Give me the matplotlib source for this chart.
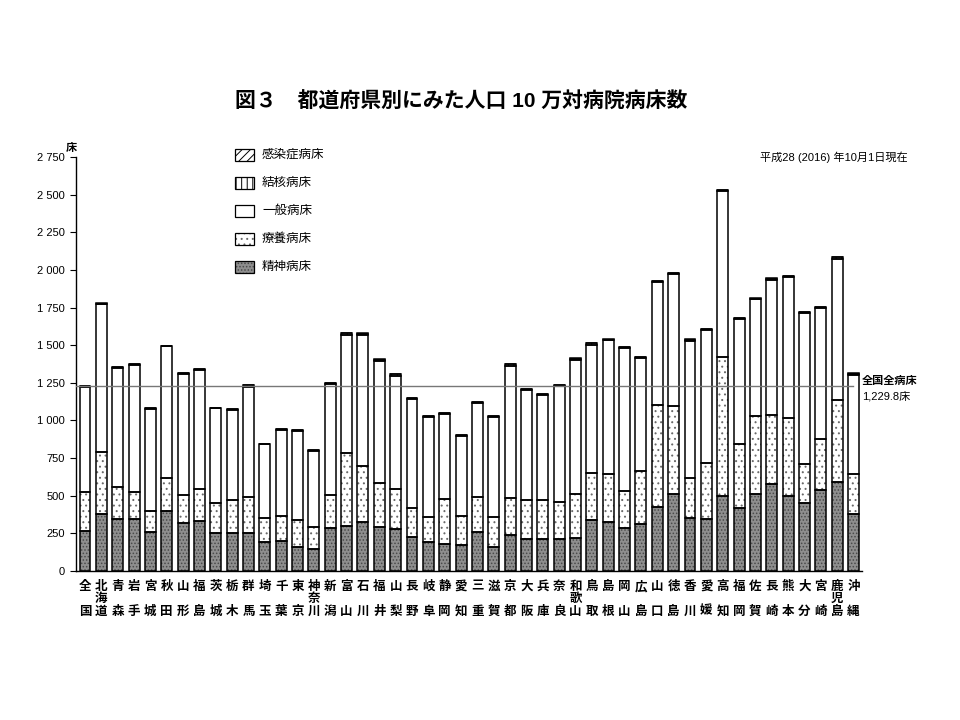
import matplotlib
matplotlib.use("Agg")
import matplotlib.pyplot as plt
from matplotlib.patches import Rectangle
from matplotlib.ticker import FuncFormatter
import numpy as np

plt.rcParams['font.family'] = ['Liberation Sans', 'Noto Sans CJK JP', 'DejaVu Sans']
plt.rcParams['hatch.linewidth'] = 0.7

prefs = ["全国", "北海道", "青森", "岩手", "宮城", "秋田", "山形", "福島", "茨城", "栃木",
         "群馬", "埼玉", "千葉", "東京", "神奈川", "新潟", "富山", "石川", "福井", "山梨",
         "長野", "岐阜", "静岡", "愛知", "三重", "滋賀", "京都", "大阪", "兵庫", "奈良",
         "和歌山", "鳥取", "島根", "岡山", "広島", "山口", "徳島", "香川", "愛媛", "高知",
         "福岡", "佐賀", "長崎", "熊本", "大分", "宮崎", "鹿児島", "沖縄"]

seishin = [263.5, 376, 345, 345, 261, 401, 317, 334, 250, 250,
           255, 195, 201, 162, 144, 283, 301, 323, 290, 277,
           228, 195, 177, 173, 261, 162, 239, 215, 215, 215,
           221, 336, 323, 283, 312, 427, 512, 354, 345, 498,
           416, 512, 576, 500, 450, 538, 593, 379]
ryoyo = [258.8, 412, 211, 182, 140, 215, 188, 209, 200, 220,
         235, 155, 166, 177, 150, 222, 481, 374, 292, 266,
         188, 166, 299, 194, 229, 199, 244, 257, 257, 246,
         288, 313, 319, 251, 352, 676, 584, 262, 374, 926,
         426, 518, 460, 514, 259, 337, 543, 263]
ippan = [701.8, 983.5, 791.5, 838.5, 674.5, 875.5, 804.5, 793.5, 630.5, 601.5,
         735.5, 491.5, 569.5, 593.5, 505.5, 738.5, 787.5, 872.5, 814.5, 754.5,
         725.5, 659.5, 567.5, 527.5, 626.5, 661.5, 878.5, 728.5, 699.5, 768.5,
         895.5, 854.5, 891.5, 947.5, 751.5, 813.5, 874.5, 914.5, 884.5, 1097.5,
         832.5, 773.5, 896.5, 938.5, 1005.5, 869.5, 939.5, 662.5]
kekkaku = [4.3, 5, 8, 8, 8, 4, 4, 4, 3, 3,
           7, 3, 7, 3, 3, 6, 12, 8, 8, 8,
           8, 8, 7, 7, 3, 6, 12, 7, 3, 3,
           7, 8, 4, 7, 7, 8, 6, 7, 3, 8,
           3, 6, 10, 6, 3, 10, 7, 7]
kansen = [1.4] + [1.5] * 47

national_total = 1229.8
yticks = [0, 250, 500, 750, 1000, 1250, 1500, 1750, 2000, 2250, 2500, 2750]

fig = plt.figure(figsize=(9.6, 7.2), dpi=100)
ax = fig.add_axes([76 / 960, 1 - 571 / 720, (862 - 76) / 960, (571 - 157) / 720])

x = np.arange(len(prefs))
w = 0.67
s = np.array(seishin, float)
r = np.array(ryoyo, float)
g = np.array(ippan, float)
t = np.array(kekkaku, float)
k = np.array(kansen, float)

# facecolor, hatch, hatch colour
styles = {
    'seishin': ('#8e8e8e', '.....', '#4a4a4a'),
    'ryoyo': ('white', '...', '#6a6a6a'),
    'ippan': ('white', None, 'black'),
    'kekkaku': ('white', '|||', 'black'),
    'kansen': ('white', '////', 'black'),
}

def stacked(vals, bottom, key):
    fc, hatch, hc = styles[key]
    ax.bar(x, vals, w, bottom=bottom, facecolor=fc, hatch=hatch, edgecolor=hc,
           linewidth=0, zorder=2)
    ax.bar(x, vals, w, bottom=bottom, fill=False, edgecolor='black',
           linewidth=1.1, zorder=2.5)

stacked(s, 0, 'seishin')
stacked(r, s, 'ryoyo')
stacked(g, s + r, 'ippan')
stacked(t, s + r + g, 'kekkaku')
stacked(k, s + r + g + t, 'kansen')

ax.plot([-0.55, 46.95], [national_total, national_total], color='#777777', linewidth=1.0, zorder=3)

ax.set_xlim(-0.55, len(prefs) - 1 + 0.52)
ax.set_ylim(0, 2750)
ax.set_yticks(yticks)
ax.yaxis.set_major_formatter(FuncFormatter(lambda v, p: f"{int(v):,}".replace(',', ' ')))
ax.tick_params(axis='y', direction='out', length=4, width=0.8, labelsize=8, pad=4)
ax.spines['top'].set_visible(False)
ax.spines['right'].set_visible(False)
ax.spines['left'].set_linewidth(1.0)
ax.spines['bottom'].set_linewidth(1.0)

def vlabel(name):
    if len(name) == 2:
        return name[0] + "\n\n" + name[1]
    return "\n".join(name)

ax.set_xticks(x)
ax.set_xticklabels([vlabel(p) for p in prefs], fontsize=9, fontweight='bold',
                   linespacing=1.05, va='top')
ax.tick_params(axis='x', length=0, pad=7)

# unit label
fig.text(71 / 960, 1 - 148 / 720, "床", fontsize=8, ha='center', va='center', fontweight='bold')

# title
fig.text(461 / 960, 1 - 102 / 720, "図３　都道府県別にみた人口 10 万対病院病床数",
         fontsize=15, fontweight='bold', ha='center', va='center')

# date note
fig.text(908 / 960, 1 - 157 / 720, "平成28 (2016) 年10月1日現在", fontsize=8,
         ha='right', va='center')

# national annotation
fig.text(862 / 960, 1 - 381 / 720, "全国全病床", fontsize=8, ha='left', va='center', fontweight='bold')
fig.text(862 / 960, 1 - 396 / 720, "1,229.8床", fontsize=8, ha='left', va='center')

# legend
leg_items = [("感染症病床", 'kansen'), ("結核病床", 'kekkaku'), ("一般病床", 'ippan'),
             ("療養病床", 'ryoyo'), ("精神病床", 'seishin')]
leg_y = [155, 183, 211, 239, 267]
for (lab, key), yy in zip(leg_items, leg_y):
    fc, hatch, hc = styles[key]
    fig.add_artist(Rectangle((235 / 960, 1 - (yy + 6) / 720), 19 / 960, 12 / 720,
                             transform=fig.transFigure, facecolor=fc, hatch=hatch,
                             edgecolor=hc, linewidth=0))
    fig.add_artist(Rectangle((235 / 960, 1 - (yy + 6) / 720), 19 / 960, 12 / 720,
                             transform=fig.transFigure, fill=False,
                             edgecolor='black', linewidth=0.9))
    fig.text(262 / 960, 1 - yy / 720, lab, fontsize=9, ha='left', va='center')

fig.savefig("out.png", dpi=100)
